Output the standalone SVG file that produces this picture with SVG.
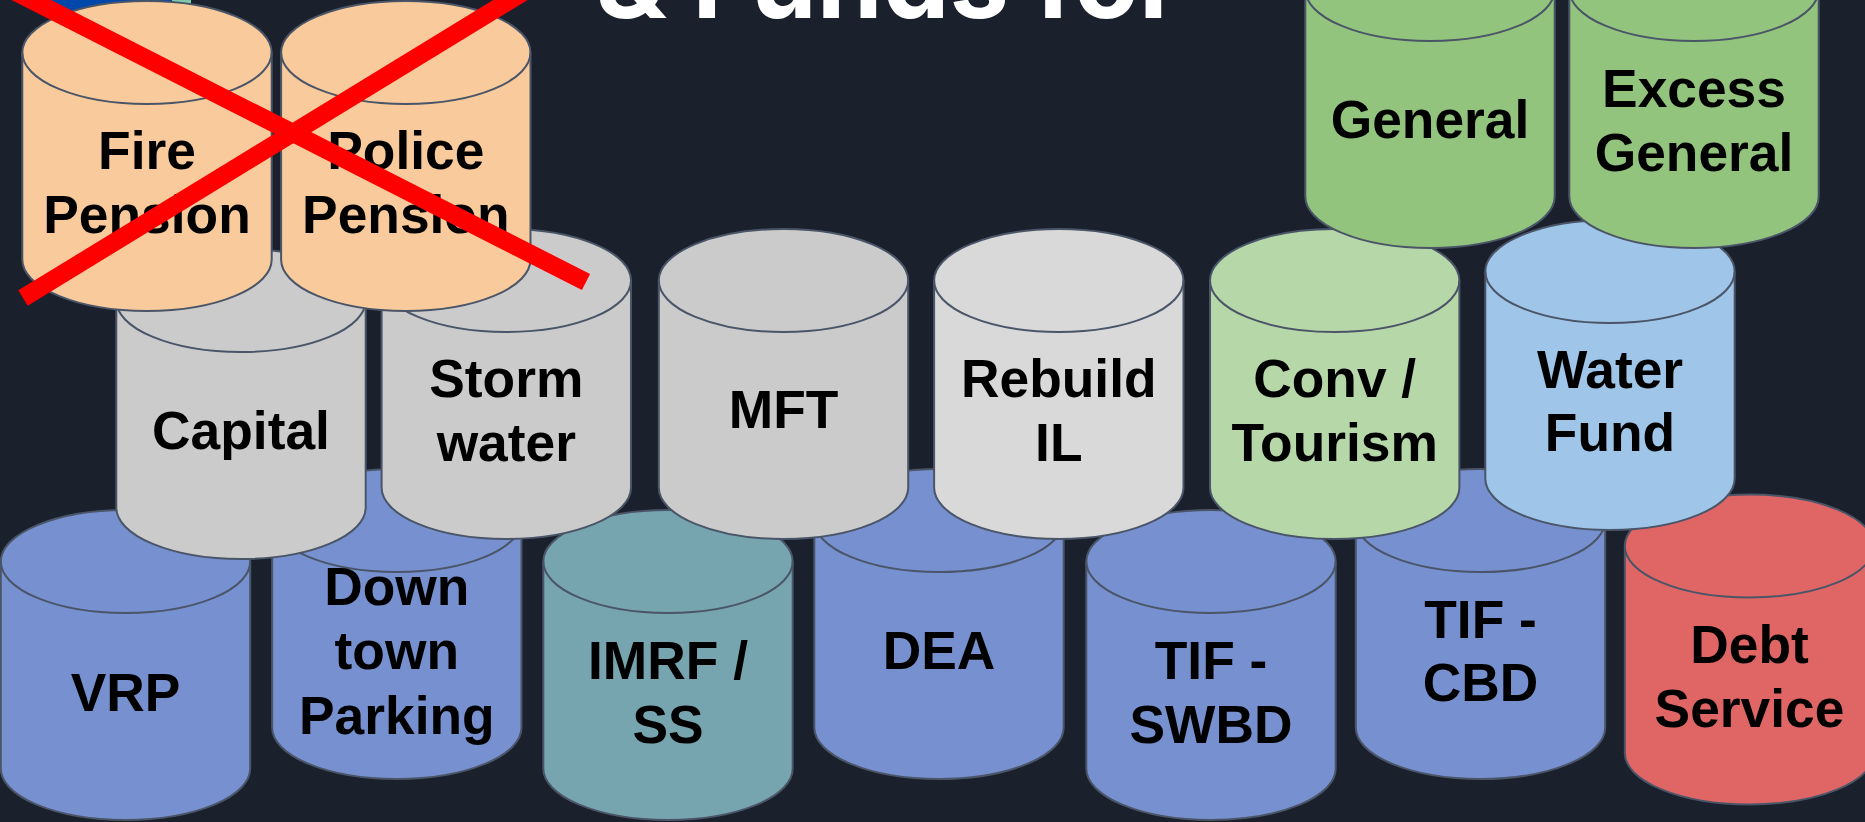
<svg xmlns="http://www.w3.org/2000/svg" width="1865" height="822" viewBox="0 0 1865 822">
<style>
use{stroke:#4a5568;stroke-width:2}
.lid{fill:none}
text{font-family:"Liberation Sans",Arial,sans-serif;font-weight:700;font-size:53.33px;fill:#000;text-anchor:middle}
.title{font-family:Inter,"Liberation Sans",sans-serif;font-size:106px;fill:#fff}
.blue{fill:#7790cf}.gray{fill:#cbcbcb}.orange{fill:#f9cb9c}.green{fill:#93c47d}
</style>
<defs>
<path id="body" d="M-124.7 51.5A124.7 51.5 0 0 1 124.7 51.5V258.5A124.7 51.5 0 0 1-124.7 258.5Z"/>
<path id="lid" d="M-124.7 51.5A124.7 51.5 0 0 0 124.7 51.5"/>
</defs>
<rect width="1865" height="822" fill="#1a202c"/>
<text class="title" x="889" y="17.5">&amp; Funds for</text>
<rect x="40" y="-5" width="132" height="16" fill="#0047ab"/>
<rect x="172" y="-5" width="19" height="16" fill="#7fc8a9"/>
<g id="node-tif-swbd" transform="translate(1211,510)"><use href="#body" class="blue"/><use href="#lid" class="lid"/><text y="169">TIF -</text><text y="233">SWBD</text></g>
<g id="node-vrp" transform="translate(125.5,510)"><use href="#body" class="blue"/><use href="#lid" class="lid"/><text y="201">VRP</text></g>
<g id="node-downtown" transform="translate(396.8,469)"><use href="#body" class="blue"/><use href="#lid" class="lid"/><text y="136">Down</text><text y="200">town</text><text y="265">Parking</text></g>
<g id="node-imrf" transform="translate(668,510)"><use href="#body" fill="#76a5af"/><use href="#lid" class="lid"/><text y="169">IMRF /</text><text y="233">SS</text></g>
<g id="node-dea" transform="translate(939,469)"><use href="#body" class="blue"/><use href="#lid" class="lid"/><text y="200">DEA</text></g>
<g id="node-tif-cbd" transform="translate(1480.5,469)"><use href="#body" class="blue"/><use href="#lid" class="lid"/><text y="169">TIF -</text><text y="232">CBD</text></g>
<g id="node-debt" transform="translate(1749.5,494.5)"><use href="#body" fill="#e06666"/><use href="#lid" class="lid"/><text y="168">Debt</text><text y="232">Service</text></g>
<g id="node-capital" transform="translate(241,249)"><use href="#body" class="gray"/><use href="#lid" class="lid"/><text y="200">Capital</text></g>
<g id="node-storm" transform="translate(506.3,229)"><use href="#body" class="gray"/><use href="#lid" class="lid"/><text y="168">Storm</text><text y="232">water</text></g>
<g id="node-mft" transform="translate(783.5,229)"><use href="#body" class="gray"/><use href="#lid" class="lid"/><text y="199">MFT</text></g>
<g id="node-rebuild" transform="translate(1058.8,229)"><use href="#body" fill="#d9d9d9"/><use href="#lid" class="lid"/><text y="168">Rebuild</text><text y="232">IL</text></g>
<g id="node-conv" transform="translate(1334.7,229)"><use href="#body" fill="#b6d7a8"/><use href="#lid" class="lid"/><text y="168">Conv /</text><text y="232">Tourism</text></g>
<g id="node-water" transform="translate(1610,220)"><use href="#body" fill="#9fc5e8"/><use href="#lid" class="lid"/><text y="168">Water</text><text y="231">Fund</text></g>
<g id="node-general" transform="translate(1430,-62)"><use href="#body" class="green"/><use href="#lid" class="lid"/><text y="200">General</text></g>
<g id="node-excess" transform="translate(1694,-62)"><use href="#body" class="green"/><use href="#lid" class="lid"/><text y="169">Excess</text><text y="233">General</text></g>
<g id="node-fire" transform="translate(147,1)"><use href="#body" class="orange"/><use href="#lid" class="lid"/><text y="168">Fire</text><text y="232">Pension</text></g>
<g id="node-police" transform="translate(405.8,1)"><use href="#body" class="orange"/><use href="#lid" class="lid"/><text y="168">Police</text><text y="232">Pension</text></g>
<g id="connectors" stroke="#f00" stroke-width="18" fill="none">
<line x1="23" y1="298" x2="530" y2="-12"/>
<line x1="-8" y1="-20" x2="586" y2="282"/>
</g>
</svg>
